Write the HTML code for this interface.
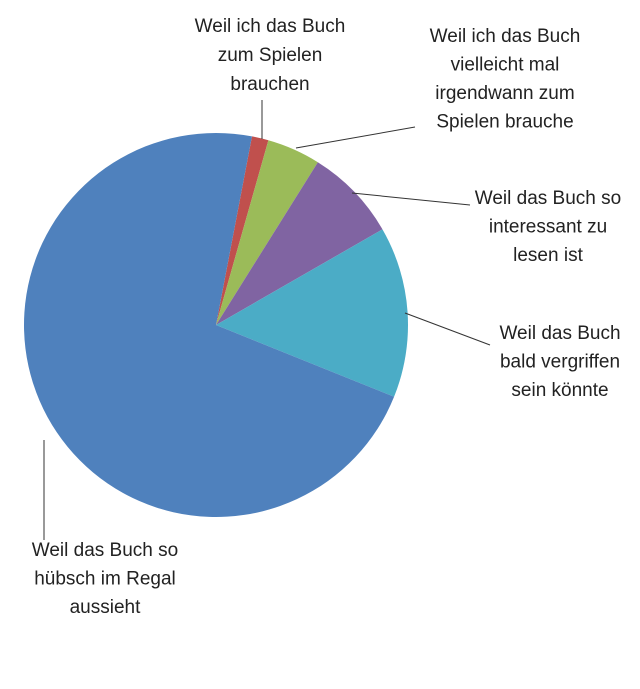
<!DOCTYPE html>
<html><head><meta charset="utf-8"><style>
html,body{margin:0;padding:0;background:#fff;}
svg text{font-family:"Liberation Sans",Arial,sans-serif;font-size:19px;fill:#222;}
</style></head><body>
<svg width="640" height="684" viewBox="0 0 640 684">
<g id="slices"></g>
<g stroke="#333" stroke-width="1" fill="none">
<polyline points="262,139 262,100"/>
<polyline points="296,148 415,127"/>
<polyline points="352,193 470,205"/>
<polyline points="405,313 490,345"/>
<polyline points="44,440 44,540"/>
</g>
<g text-anchor="middle">
<text x="270" y="32"><tspan x="270">Weil ich das Buch</tspan><tspan x="270" dy="29">zum Spielen</tspan><tspan x="270" dy="29">brauchen</tspan></text>
<text x="505" y="42"><tspan x="505">Weil ich das Buch</tspan><tspan x="505" dy="28.5">vielleicht mal</tspan><tspan x="505" dy="28.5">irgendwann zum</tspan><tspan x="505" dy="28.5">Spielen brauche</tspan></text>
<text x="548" y="204"><tspan x="548">Weil das Buch so</tspan><tspan x="548" dy="28.5">interessant zu</tspan><tspan x="548" dy="28.5">lesen ist</tspan></text>
<text x="560" y="339"><tspan x="560">Weil das Buch</tspan><tspan x="560" dy="28.5">bald vergriffen</tspan><tspan x="560" dy="28.5">sein könnte</tspan></text>
<text x="105" y="556"><tspan x="105">Weil das Buch so</tspan><tspan x="105" dy="28.5">hübsch im Regal</tspan><tspan x="105" dy="28.5">aussieht</tspan></text>
</g>
</svg>
<script>
const categories = ["Spielen","Vielleicht Spielen","Interessant","Vergriffen","Regal"];
const values = [1.4, 4.5, 7.8, 14.4, 71.9];
const colors = ["#C0504D","#9BBB59","#8064A2","#4BACC6","#4F81BD"];
const cx = 216, cy = 325, r = 192, startDeg = 10.8;
const total = values.reduce((a,b)=>a+b,0);
const g = document.getElementById('slices');
let a = startDeg;
function pt(deg){const t=deg*Math.PI/180;return [cx+r*Math.sin(t), cy-r*Math.cos(t)];}
values.forEach((v,i)=>{
  const sweep = v/total*360;
  const p0 = pt(a), p1 = pt(a+sweep);
  const large = sweep>180?1:0;
  const path = document.createElementNS("http://www.w3.org/2000/svg","path");
  path.setAttribute("d",`M${cx},${cy} L${p0[0]},${p0[1]} A${r},${r} 0 ${large} 1 ${p1[0]},${p1[1]} Z`);
  path.setAttribute("fill",colors[i]);
  
  
  g.appendChild(path);
  a += sweep;
});
</script>
</body></html>
